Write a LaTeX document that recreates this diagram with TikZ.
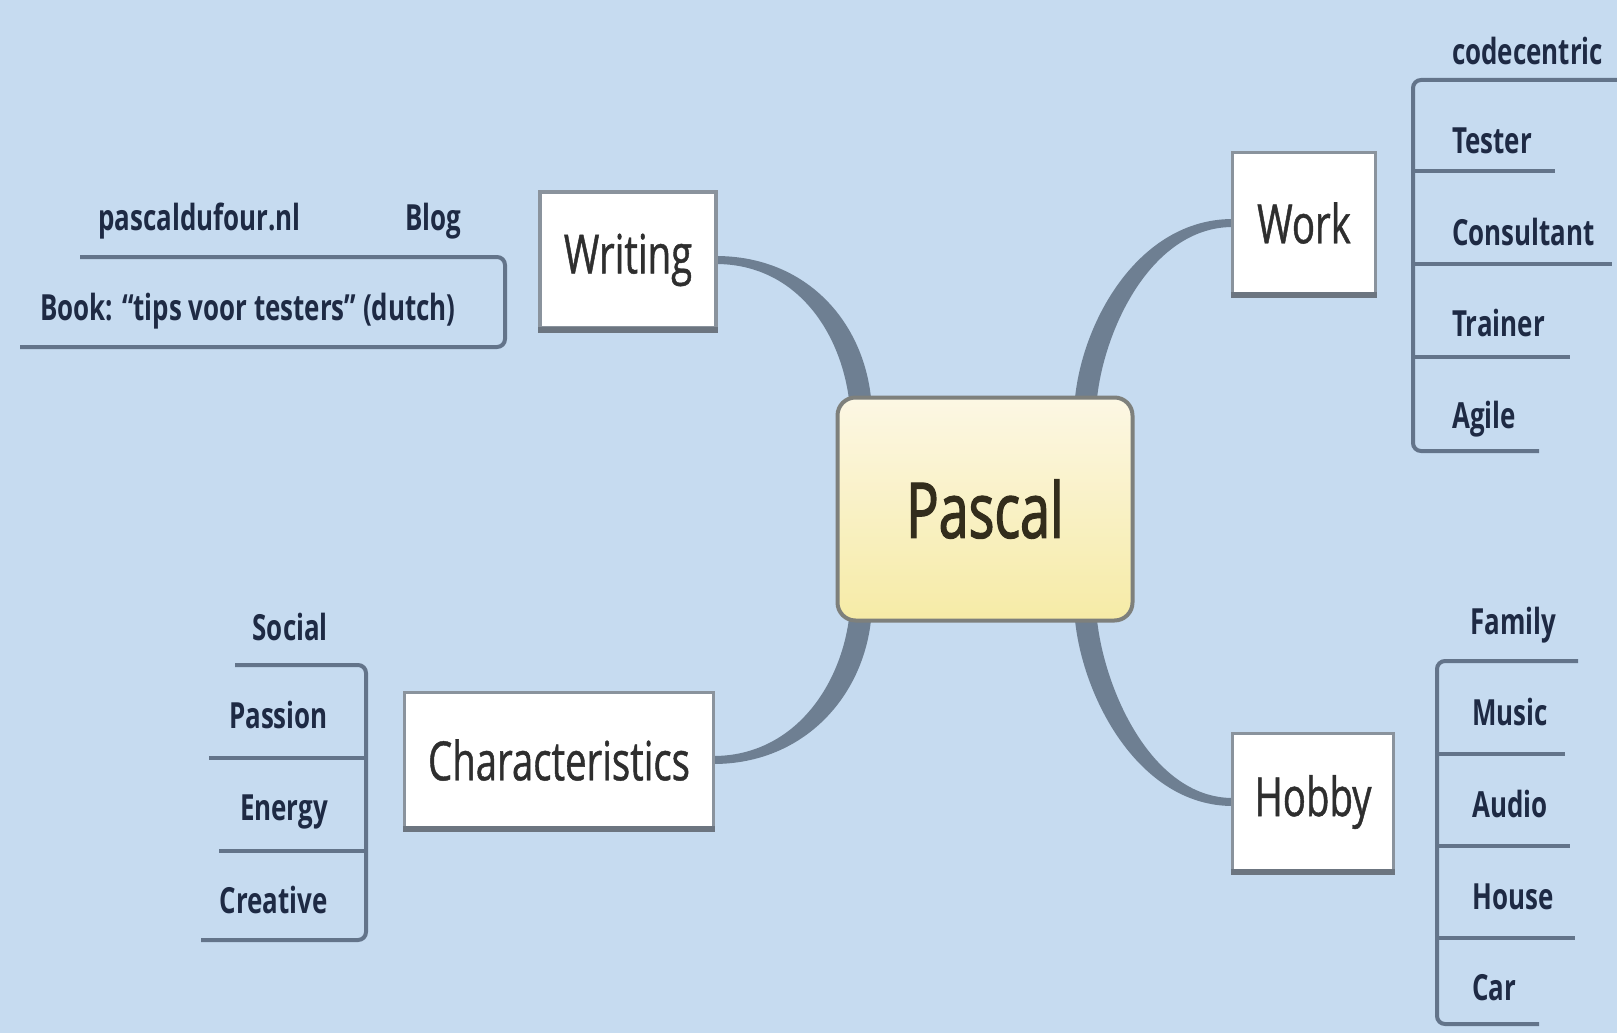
\documentclass[tikz,border=0pt]{standalone}
\usepackage{fontspec}
\setmainfont{Open Sans}[FakeStretch=0.72]
\newfontfamily\topicfont{Open Sans}[FakeStretch=0.71, FakeBold=0.8]
\newfontfamily\corefont{Open Sans}[FakeStretch=0.70, FakeBold=1.6]
\usetikzlibrary{calc}
\pgfdeclarelayer{bg}
\pgfsetlayers{bg,main}

\definecolor{paper}{HTML}{C6DBF0}
\definecolor{branchcol}{HTML}{6E7F92}
\definecolor{framecol}{HTML}{8A939D}
\definecolor{framedark}{HTML}{6C7580}
\definecolor{leafline}{HTML}{63748A}
\definecolor{leaftext}{HTML}{1E2A44}
\definecolor{labeltext}{HTML}{2E2E2E}
\definecolor{coretop}{HTML}{FCF7E4}
\definecolor{coremid}{HTML}{F9F0BC}
\definecolor{corebot}{HTML}{F6EBA6}
\definecolor{coreframe}{HTML}{7E807C}
\definecolor{coretext}{HTML}{332D1C}

\begin{document}
\begin{tikzpicture}[x=1pt,y=-1pt,
  topic/.style={draw=framecol, line width=3.5pt, fill=white, inner sep=0pt,
    font=\topicfont\fontsize{54}{60}\selectfont, text=labeltext},
  core/.style={draw=coreframe, line width=4pt, rounded corners=18pt,
    top color=coretop, middle color=coremid, bottom color=corebot,
    minimum width=295pt, minimum height=223pt, inner sep=0pt,
    font=\corefont\fontsize{77}{80}\selectfont, text=coretext},
  leaf/.style={font=\bfseries\fontsize{36}{40}\selectfont, text=leaftext, inner sep=0pt},
  underline/.style={draw=leafline, line width=4pt, rounded corners=8pt},
  branch/.style={fill=branchcol},
  shadowedge/.style={draw=framedark, line width=6pt}
]
\useasboundingbox (0,0) rectangle (1617,1033);

% central topic and main topics
\node[core] (pascal) at (985,509) {Pascal};
\node[topic, minimum width=176pt, minimum height=136pt] (writing) at (628,260) {Writing};
\node[topic, minimum width=143pt, minimum height=141pt] (work) at (1304,223) {Work};
\node[topic, minimum width=309pt, minimum height=135pt] (characteristics) at (559,760) {Characteristics};
\node[topic, minimum width=161pt, minimum height=137pt] (hobby) at (1313,802) {Hobby};

% heavier lower edge on each main topic
\foreach \t in {writing,work,characteristics,hobby}
  \draw[shadowedge] (\t.south west) -- (\t.south east);

% background and tapered branches
\begin{pgfonlayer}{bg}
  \fill[paper] (0,0) rectangle (1617,1033);
  \fill[branch] ($(writing.east)+(-2,-4)$) .. controls +(92,0) and +(-6,-80) ..
    ($(pascal.north west)+(36,8)$) -- ($(pascal.north west)+(14,8)$)
    .. controls +(-8,-72) and +(80,0) .. ($(writing.east)+(-2,4)$) -- cycle;
  \fill[branch] ($(work.west)+(2,-4)$) .. controls +(-95,0) and +(6,-80) ..
    ($(pascal.north east)+(-60,8)$) -- ($(pascal.north east)+(-38,8)$)
    .. controls +(6,-72) and +(-82,0) .. ($(work.west)+(2,4)$) -- cycle;
  \fill[branch] ($(characteristics.east)+(-2,4)$) .. controls +(92,0) and +(-6,80) ..
    ($(pascal.south west)+(36,-8)$) -- ($(pascal.south west)+(14,-8)$)
    .. controls +(-8,72) and +(80,0) .. ($(characteristics.east)+(-2,-4)$) -- cycle;
  \fill[branch] ($(hobby.west)+(2,4)$) .. controls +(-95,0) and +(6,80) ..
    ($(pascal.south east)+(-60,-8)$) -- ($(pascal.south east)+(-38,-8)$)
    .. controls +(6,72) and +(-82,0) .. ($(hobby.west)+(2,-4)$) -- cycle;
\end{pgfonlayer}

% Writing subtopics
\node[leaf, anchor=base west] (blogurl) at (98,230) {pascaldufour.nl};
\node[leaf, anchor=base west] (blog) at (405,230) {Blog};
\node[leaf, anchor=base west] (book) at (40,320) {Book: “tips voor testers” (dutch)};
\draw[underline] (80,257) -- (505,257) -- (505,347) -- (20,347);

% Work subtopics
\node[leaf, anchor=base west] (codecentric) at (1452,64) {codecentric};
\node[leaf, anchor=base west] (tester) at (1452,153) {Tester};
\node[leaf, anchor=base west] (consultant) at (1452,245) {Consultant};
\node[leaf, anchor=base west] (trainer) at (1452,336) {Trainer};
\node[leaf, anchor=base west] (agile) at (1452,428) {Agile};
\draw[underline] (1617,80) -- (1413,80) -- (1413,451) -- (1539,451);
\draw[underline] (1413,171) -- (1555,171);
\draw[underline] (1413,264) -- (1612,264);
\draw[underline] (1413,357) -- (1570,357);

% Characteristics subtopics
\node[leaf, anchor=base east] (social) at (328,640) {Social};
\node[leaf, anchor=base east] (passion) at (328,728) {Passion};
\node[leaf, anchor=base east] (energy) at (328,820) {Energy};
\node[leaf, anchor=base east] (creative) at (328,913) {Creative};
\draw[underline] (235,665) -- (366,665) -- (366,940) -- (201,940);
\draw[underline] (209,758) -- (366,758);
\draw[underline] (219,851) -- (366,851);

% Hobby subtopics
\node[leaf, anchor=base west] (family) at (1470,634) {Family};
\node[leaf, anchor=base west] (music) at (1472,725) {Music};
\node[leaf, anchor=base west] (audio) at (1472,817) {Audio};
\node[leaf, anchor=base west] (house) at (1472,909) {House};
\node[leaf, anchor=base west] (car) at (1472,1000) {Car};
\draw[underline] (1578,661) -- (1437,661) -- (1437,1024) -- (1539,1024);
\draw[underline] (1437,754) -- (1565,754);
\draw[underline] (1437,846) -- (1570,846);
\draw[underline] (1437,938) -- (1575,938);
\end{tikzpicture}
\end{document}
